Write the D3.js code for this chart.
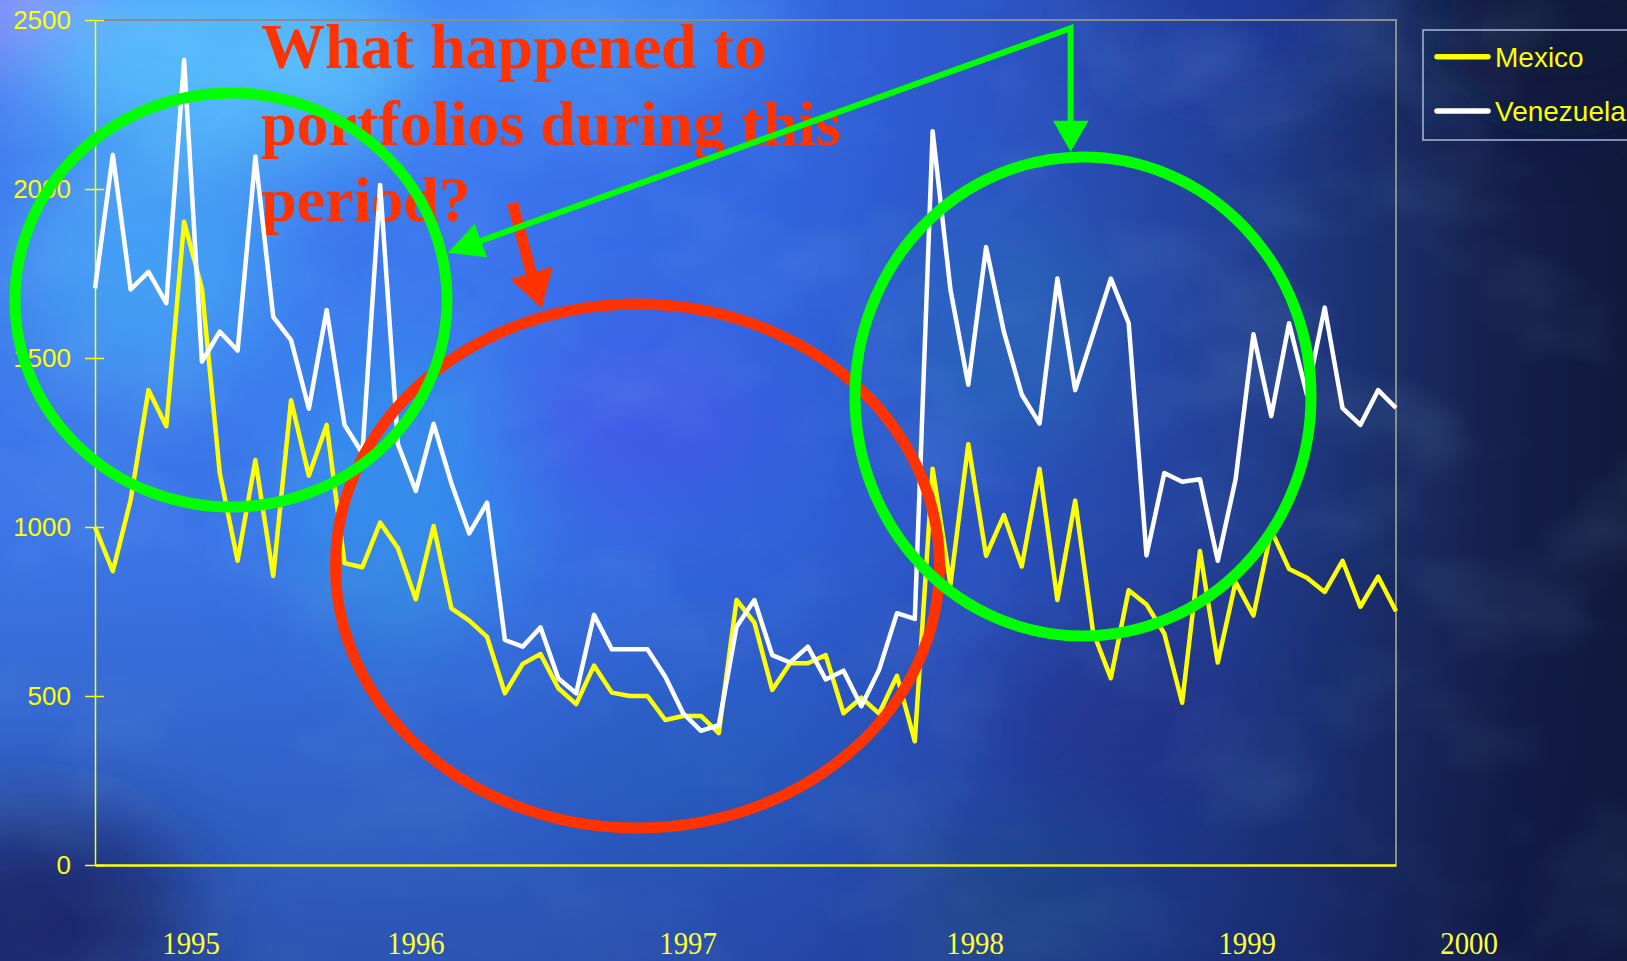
<!DOCTYPE html>
<html>
<head>
<meta charset="utf-8">
<script src="https://cdn.jsdelivr.net/npm/d3@7"></script>
<style>
  html, body { margin: 0; padding: 0; background: #1a2c6a; overflow: hidden; }
  svg { display: block; }
</style>
</head>
<body>
<svg id="chart" width="1627" height="961"></svg>
<script>
// Monthly portfolio index readings, one value per period
const mexico = [
  1000, 869, 1080, 1405, 1298, 1903, 1705, 1160, 900, 1198,
  855, 1375, 1152, 1302, 893, 881, 1013, 937, 786, 1003,
  759, 723, 675, 508, 595, 624, 523, 476, 590, 510,
  500, 500, 429, 441, 441, 390, 784, 717, 518, 597,
  597, 621, 449, 495, 448, 560, 366, 1172, 830, 1245,
  915, 1035, 883, 1172, 784, 1078, 690, 553, 813, 771,
  685, 480, 929, 599, 837, 738, 990, 876, 850, 808,
  900, 764, 853, 751
];
const venezuela = [
  1706, 2101, 1703, 1755, 1662, 2382, 1489, 1578, 1522, 2096,
  1622, 1553, 1350, 1642, 1302, 1218, 2012, 1245, 1107, 1305,
  1129, 981, 1072, 666, 646, 703, 552, 508, 740, 638,
  638, 638, 557, 449, 397, 414, 705, 784, 621, 599,
  646, 549, 575, 470, 578, 745, 728, 2171, 1702, 1421,
  1828, 1577, 1392, 1306, 1735, 1405, 1570, 1735, 1603, 916,
  1160, 1134, 1141, 900, 1141, 1570, 1328, 1603, 1392, 1649,
  1352, 1302, 1405, 1352
];
const seriesNames = ["Mexico", "Venezuela"];
const yTicks = [0, 500, 1000, 1500, 2000, 2500];
const years = ["1995", "1996", "1997", "1998", "1999", "2000"];
// where each year caption sits along the sample index
const yearAt = [5.39, 18.01, 33.28, 49.38, 64.65, 77.1];
const titleLines = ["What happened to", "portfolios during this", "period?"];

const W = 1627, H = 961;
const plot = { left: 95, right: 1396, top: 20, bottom: 865 };
const svg = d3.select("#chart");
const defs = svg.append("defs");

// ---------- background ----------
const base = defs.append("linearGradient").attr("id", "bgH").attr("x1", 0).attr("x2", 1).attr("y1", 0).attr("y2", 0);
[[0, "#3f7cf0"], [0.3, "#3c78f2"], [0.48, "#3366e2"], [0.62, "#2c54c4"], [0.75, "#24429a"], [0.86, "#1a2d66"], [0.93, "#141f4a"], [1, "#111a3c"]]
  .forEach(([o, c]) => base.append("stop").attr("offset", o).attr("stop-color", c));
const vshade = defs.append("linearGradient").attr("id", "bgV").attr("x1", 0).attr("x2", 0).attr("y1", 0).attr("y2", 1);
[[0, "#0a1040", 0], [0.55, "#0a1040", 0.05], [1, "#0a1040", 0.35]]
  .forEach(([o, c, a]) => vshade.append("stop").attr("offset", o).attr("stop-color", c).attr("stop-opacity", a));

defs.append("filter").attr("id", "soft")
  .attr("filterUnits", "userSpaceOnUse")
  .attr("x", -300).attr("y", -300).attr("width", W + 600).attr("height", H + 600)
  .append("feGaussianBlur").attr("stdDeviation", 45);

const mottle = defs.append("filter").attr("id", "mottle")
  .attr("filterUnits", "userSpaceOnUse").attr("x", 0).attr("y", 0).attr("width", W).attr("height", H);
mottle.append("feTurbulence").attr("type", "fractalNoise").attr("baseFrequency", "0.006 0.009").attr("numOctaves", 3).attr("seed", 7);
mottle.append("feColorMatrix").attr("type", "matrix")
  .attr("values", "0 0 0 0 0.35  0 0 0 0 0.75  0 0 0 0 1  1.6 0 0 0 -0.75");

const bg = svg.append("g");
bg.append("rect").attr("width", W).attr("height", H).attr("fill", "url(#bgH)");

const blobs = [
  [20, 0, 90, 70, "#a592ff", 0.85],
  [230, 60, 200, 110, "#5ccaff", 0.8],
  [150, 270, 130, 120, "#4cbcff", 0.6],
  [600, 30, 170, 70, "#52b6ff", 0.5],
  [400, 500, 120, 160, "#36a6f6", 0.55],
  [640, 420, 130, 90, "#4c52f2", 0.55],
  [700, 760, 160, 90, "#2c7ad8", 0.35],
  [1010, 330, 110, 110, "#2a78b8", 0.45],
  [1240, 30, 110, 60, "#1c34a0", 0.6],
  [1120, 720, 130, 90, "#2a3592", 0.55],
  [1010, 900, 110, 70, "#236a8c", 0.45],
  [30, 920, 160, 110, "#1a2466", 0.8],
  [1560, 30, 120, 80, "#0e1636", 0.7]
];
bg.selectAll("ellipse.blob").data(blobs).join("ellipse")
  .attr("class", "blob")
  .attr("cx", d => d[0]).attr("cy", d => d[1]).attr("rx", d => d[2]).attr("ry", d => d[3])
  .attr("fill", d => d[4]).attr("opacity", d => d[5]).attr("filter", "url(#soft)");
bg.append("rect").attr("width", W).attr("height", H).attr("filter", "url(#mottle)").attr("opacity", 0.18);
bg.append("rect").attr("width", W).attr("height", H).attr("fill", "url(#bgV)");

// ---------- scales ----------
const x = d3.scaleLinear().domain([0, mexico.length - 1]).range([plot.left, plot.right]);
const y = d3.scaleLinear().domain([0, 2500]).range([plot.bottom, plot.top]);

// plot frame (top and right edges)
svg.append("path")
  .attr("d", `M${plot.left},${plot.top}H${plot.right}V${plot.bottom}`)
  .attr("fill", "none").attr("stroke", "#8c8c8c").attr("stroke-width", 2);

// title
const title = svg.append("text")
  .attr("x", 261).attr("y", 68)
  .attr("font-family", "'Liberation Serif', 'Times New Roman', serif")
  .attr("font-weight", "bold").attr("font-size", 64).attr("fill", "#ff3300");
titleLines.forEach((t, i) => title.append("tspan").attr("x", 261).attr("y", 68 + i * 76.7).text(t));

// y axis
const yAxis = svg.append("g").attr("transform", `translate(${plot.left},0)`)
  .call(d3.axisLeft(y).tickValues(yTicks).tickSizeInner(10).tickSizeOuter(0).tickPadding(14).tickFormat(d3.format("d")));
yAxis.select(".domain").attr("stroke", "#ffff00").attr("stroke-width", 1.5);
yAxis.selectAll(".tick line").attr("stroke", "#ffff00").attr("stroke-width", 1.5).attr("x2", -10);
yAxis.selectAll(".tick").append("line").attr("x1", 0).attr("x2", 9).attr("stroke", "#ffff00").attr("stroke-width", 1.5);
yAxis.selectAll(".tick text")
  .attr("fill", "#ffff00").attr("font-size", 26)
  .attr("font-family", "'Liberation Sans', Arial, sans-serif");

// x axis baseline
const xAxis = svg.append("g").attr("transform", `translate(0,${plot.bottom})`)
  .call(d3.axisBottom(x).tickValues([]).tickSizeOuter(0));
xAxis.select(".domain").attr("stroke", "#ffff00").attr("stroke-width", 2.5);

// year captions
svg.append("g").selectAll("text").data(years).join("text")
  .attr("transform", (d, i) => `translate(${x(yearAt[i])},954) scale(0.9,1)`)
  .attr("text-anchor", "middle")
  .attr("font-family", "'Liberation Serif', 'Times New Roman', serif")
  .attr("font-size", 32).attr("fill", "#ffff33")
  .text(d => d);

// series lines
const line = d3.line().x((d, i) => x(i)).y(d => y(d));
const seriesColors = ["#ffff00", "#ffffff"];
svg.append("g").selectAll("path").data([mexico, venezuela]).join("path")
  .attr("d", line)
  .attr("fill", "none")
  .attr("stroke", (d, i) => seriesColors[i])
  .attr("stroke-width", 4.5)
  .attr("stroke-linejoin", "round");

// legend
const lg = svg.append("g");
lg.append("rect").attr("x", 1423).attr("y", 30).attr("width", 240).attr("height", 110)
  .attr("fill", "none").attr("stroke", "#a8b8d8").attr("stroke-width", 1.5);
seriesNames.forEach((name, i) => {
  const cy = 56.7 + i * 54.3;
  lg.append("line").attr("x1", 1437).attr("x2", 1488).attr("y1", cy).attr("y2", cy)
    .attr("stroke", seriesColors[i]).attr("stroke-width", 5.5).attr("stroke-linecap", "round");
  lg.append("text").attr("x", 1495).attr("y", cy + 10)
    .attr("font-family", "'Liberation Sans', Arial, sans-serif").attr("font-size", 28)
    .attr("fill", "#ffff00").text(name);
});

// ---------- call-outs ----------
const ann = svg.append("g");
const red = "#ff3300", green = "#00ff00";

ann.append("ellipse").attr("cx", 637.5).attr("cy", 566).attr("rx", 302).attr("ry", 262)
  .attr("fill", "none").attr("stroke", red).attr("stroke-width", 11);
ann.append("line").attr("x1", 512.6).attr("y1", 203).attr("x2", 532).attr("y2", 276)
  .attr("stroke", red).attr("stroke-width", 11);
ann.append("polygon").attr("points", "510.4,279.3 552.8,266.7 541.6,308.3").attr("fill", red);

ann.append("ellipse").attr("cx", 231).attr("cy", 300).attr("rx", 216).attr("ry", 207)
  .attr("fill", "none").attr("stroke", green).attr("stroke-width", 11);
ann.append("ellipse").attr("cx", 1083).attr("cy", 396.5).attr("rx", 228).attr("ry", 239.5)
  .attr("fill", "none").attr("stroke", green).attr("stroke-width", 11);

ann.append("path").attr("d", "M481,240.7L1070.6,28.3V122")
  .attr("fill", "none").attr("stroke", green).attr("stroke-width", 6).attr("stroke-linejoin", "miter");
ann.append("polygon").attr("points", "447.9,252.7 474.6,224 487.1,257.3").attr("fill", green);
ann.append("polygon").attr("points", "1053,120.7 1088.6,120.7 1070.6,151.7").attr("fill", green);
</script>
</body>
</html>
